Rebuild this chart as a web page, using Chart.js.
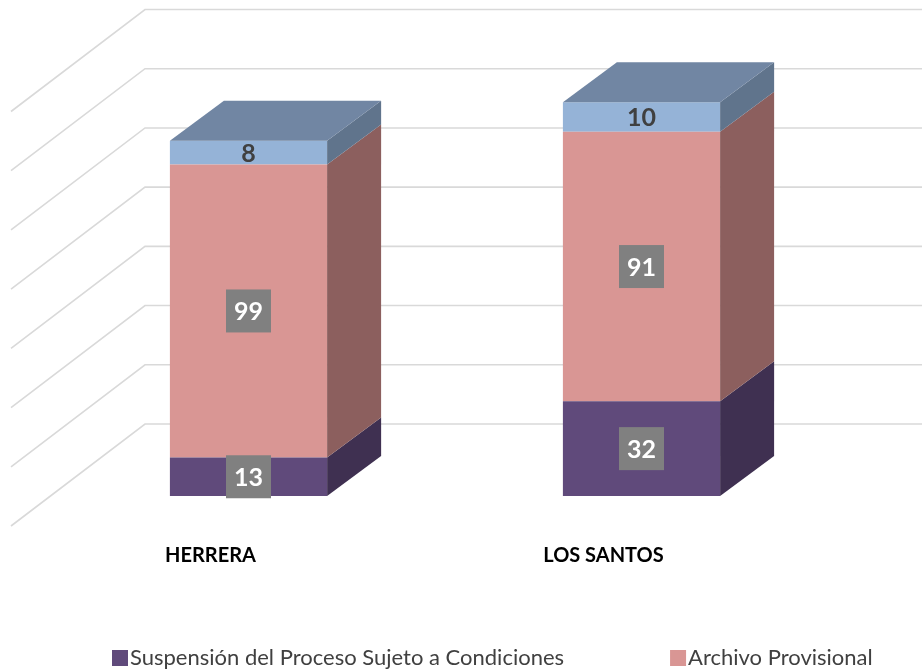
<!DOCTYPE html>
<html><head><meta charset="utf-8">
<script src="https://cdn.jsdelivr.net/npm/chart.js@4.4.1/dist/chart.umd.min.js"></script>
<style>html,body{margin:0;padding:0;background:#fff;}canvas{display:block}</style>
</head><body>
<canvas id="c" width="922" height="672"></canvas>
<script>
// ---- data ----
const categories = ['HERRERA', 'LOS SANTOS'];
const suspensionValues = [13, 32];
const archivoValues = [99, 91];
const otrosValues = [8, 10];
const seriesNames = ['Suspensión del Proceso Sujeto a Condiciones', 'Archivo Provisional', 'Otros'];
const gridValues = [0, 20, 40, 60, 80, 100, 120, 140];

// ---- styles ----
const frontColors = ['#604A7B', '#D99694', '#95B3D7'];
const sideColors = ['#3F3051', '#8C5F5E', '#60748C'];
const topColor = '#7186A3';
const FONT = 'Lato, "Open Sans", sans-serif';
const BAR_DX = 54, BAR_DY = -40;        // bar depth
const WALL_BACK_DY = -72;               // back wall offset from front plane
const WALL_DX = -134, WALL_DY = 102;    // left wall depth
const WALL_LEFT_OFFSET = 93;            // back wall start from chart left

const threeD = {
  id: 'threeD',
  beforeDatasetsDraw(chart) {
    const ctx = chart.ctx, y = chart.scales.y, area = chart.chartArea;
    const x0 = area.left + WALL_LEFT_OFFSET;
    ctx.save();
    ctx.strokeStyle = '#D9D9D9';
    ctx.lineWidth = 1.6;
    gridValues.forEach(v => {
      const yb = y.getPixelForValue(v) + WALL_BACK_DY;
      ctx.beginPath();
      ctx.moveTo(x0 + WALL_DX, yb + WALL_DY);
      ctx.lineTo(x0, yb);
      ctx.lineTo(chart.width, yb);
      ctx.stroke();
    });
    ctx.restore();
  },
  afterDatasetsDraw(chart) {
    const ctx = chart.ctx;
    const n = chart.data.datasets.length;
    ctx.save();
    for (let d = 0; d < n; d++) {
      const meta = chart.getDatasetMeta(d);
      meta.data.forEach(bar => {
        const p = bar.getProps(['x', 'y', 'base', 'width'], true);
        const l = p.x - p.width / 2, r = p.x + p.width / 2;
        const t = Math.min(p.y, p.base), b = Math.max(p.y, p.base);
        ctx.fillStyle = sideColors[d];
        ctx.beginPath();
        ctx.moveTo(r, t); ctx.lineTo(r + BAR_DX, t + BAR_DY);
        ctx.lineTo(r + BAR_DX, b + BAR_DY); ctx.lineTo(r, b);
        ctx.closePath(); ctx.fill();
        if (d === n - 1) {
          ctx.fillStyle = topColor;
          ctx.beginPath();
          ctx.moveTo(l, t); ctx.lineTo(l + BAR_DX, t + BAR_DY);
          ctx.lineTo(r + BAR_DX, t + BAR_DY); ctx.lineTo(r, t);
          ctx.closePath(); ctx.fill();
        }
      });
    }
    // data labels
    ctx.font = 'bold 25px ' + FONT;
    ctx.textAlign = 'center';
    ctx.textBaseline = 'middle';
    for (let d = 0; d < n; d++) {
      const meta = chart.getDatasetMeta(d);
      meta.data.forEach((bar, i) => {
        const p = bar.getProps(['x', 'y', 'base'], true);
        const cy = (p.y + p.base) / 2;
        const txt = String(chart.data.datasets[d].data[i]);
        if (d < 2) {
          ctx.fillStyle = '#808080';
          ctx.fillRect(p.x - 22.5, cy - 21.5, 45, 43);
          ctx.fillStyle = '#FFFFFF';
        } else {
          ctx.fillStyle = '#404040';
        }
        ctx.fillText(txt, p.x, cy + 1);
      });
    }
    ctx.restore();
  },
  afterDraw(chart) {
    // legend (first two series, as visible in the reference)
    const ctx = chart.ctx;
    ctx.save();
    ctx.font = '22px ' + FONT;
    ctx.textBaseline = 'middle';
    ctx.textAlign = 'left';
    let x = 112;
    const cy = 658;
    [0, 1].forEach(d => {
      const ds = chart.data.datasets[d];
      ctx.fillStyle = ds.backgroundColor;
      ctx.fillRect(x, cy - 8, 16, 16);
      ctx.fillStyle = '#404040';
      ctx.fillText(ds.label, x + 18, cy);
      x = x + 18 + ctx.measureText(ds.label).width + 106;
    });
    ctx.restore();
  }
};

new Chart(document.getElementById('c'), {
  type: 'bar',
  data: {
    labels: categories,
    datasets: [
      { label: seriesNames[0], data: suspensionValues, backgroundColor: frontColors[0] },
      { label: seriesNames[1], data: archivoValues, backgroundColor: frontColors[1] },
      { label: seriesNames[2], data: otrosValues, backgroundColor: frontColors[2] }
    ]
  },
  options: {
    responsive: false,
    animation: false,
    devicePixelRatio: 1,
    layout: { padding: { left: 52, right: 84, top: 81.5, bottom: 0 } },
    datasets: { bar: { barPercentage: 0.4, categoryPercentage: 1, borderWidth: 0 } },
    plugins: { legend: { display: false }, tooltip: { enabled: false } },
    scales: {
      x: {
        stacked: true,
        grid: { display: false, drawTicks: false },
        border: { display: false },
        ticks: { font: { family: FONT, size: 20, weight: 'bold' }, color: '#000000', padding: 48, labelOffset: -38, maxRotation: 0 },
        afterFit(s) { s.height = 176; }
      },
      y: {
        stacked: true, display: false, min: 0, max: 140,
        ticks: { stepSize: 20 }
      }
    }
  },
  plugins: [threeD]
});
</script>
</body></html>
